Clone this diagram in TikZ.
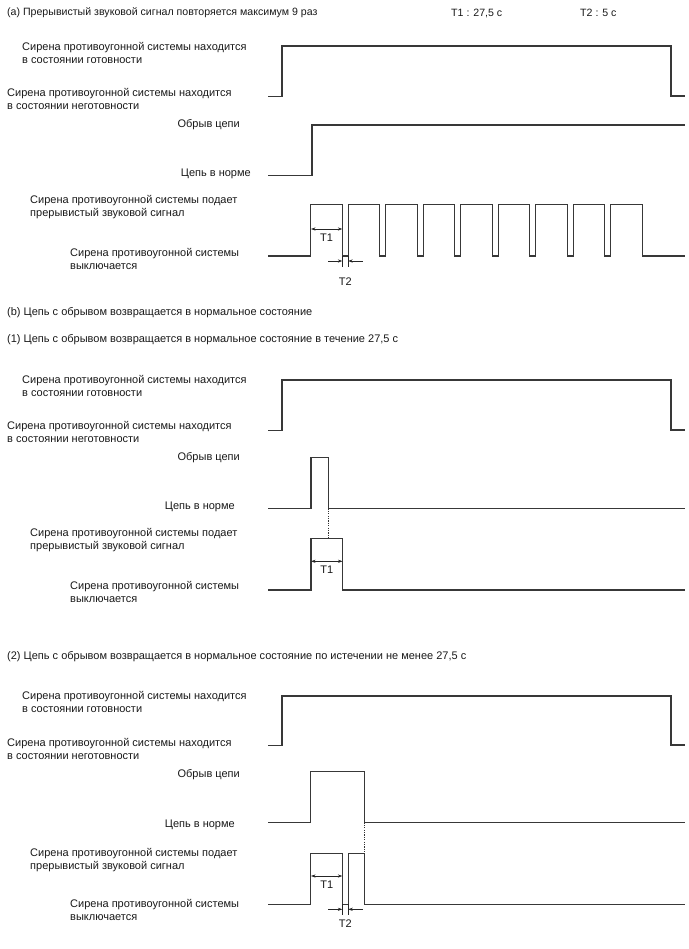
\documentclass[tikz,border=0pt]{standalone}
\usepackage{fontspec}
\setmainfont{Liberation Sans}
\usetikzlibrary{arrows.meta}
\tikzset{
  wave/.style={line width=1.2pt, draw=black!78, line join=miter},
  dimln/.style={line width=0.6pt, draw=black!85},
  dimtip/.style={dimln, -{Stealth[length=4.5pt,width=3.2pt]}},
  dimboth/.style={dimln, {Stealth[length=4.5pt,width=3.2pt]}-{Stealth[length=4.5pt,width=3.2pt]}},
  dotln/.style={line width=0.8pt, draw=black!80, dash pattern=on 1.2pt off 1.2pt},
  lbl/.style={font=\fontsize{11}{13}\selectfont, align=left, inner sep=0pt, text=black!90},
  ttl/.style={lbl, anchor=west},
}
\begin{document}
\begin{tikzpicture}[x=1pt,y=-1pt]
\useasboundingbox (0,0) rectangle (688,949);

% ---------------- (a) ----------------
\node[ttl, font=\fontsize{10.6}{13}\selectfont] (ta) at (7,13) {(a) Прерывистый звуковой сигнал повторяется максимум 9 раз};
\node[ttl, font=\fontsize{10.6}{13}\selectfont] (tt1) at (451,13) {T1 : 27,5 с};
\node[ttl, font=\fontsize{10.6}{13}\selectfont] (tt2) at (580,13) {T2 : 5 с};

\node[lbl, anchor=west] (a1) at (22,52.5) {Сирена противоугонной системы находится\\в состоянии готовности};
\node[lbl, anchor=west] (a2) at (7,98.5) {Сирена противоугонной системы находится\\в состоянии неготовности};
\node[lbl, anchor=east] (a3) at (240,124.5) {Обрыв цепи};
\node[lbl, anchor=east] (a4) at (251,173.5) {Цепь в норме};
\node[lbl, anchor=west] (a5) at (30,207.5) {Сирена противоугонной системы подает\\прерывистый звуковой сигнал};
\node[lbl, anchor=west] (a6) at (70,258.5) {Сирена противоугонной системы\\выключается};

\draw[wave] (268,96.5) -- (282,96.5) -- (282,46) -- (671,46) -- (671,96) -- (685,96);
\draw[wave] (268,175.5) -- (312,175.5) -- (312,125) -- (685,125);
\draw[wave] (268,256) -- (310.7,256)
  \foreach \i in {0,...,8} { -- ({310.7+37.5*\i},256) -- ({310.7+37.5*\i},204.5) -- ({342.3+37.5*\i},204.5) -- ({342.3+37.5*\i},256) }
  -- (685,256);

\coordinate (aT1l) at (311,229);
\coordinate (aT1r) at (342.3,229);
\draw[dimboth] (aT1l) -- (aT1r);
\node[lbl] (aT1) at (326.5,237.5) {T1};

\draw[dimln] (342.3,256) -- (342.3,267);
\draw[dimln] (348.2,256) -- (348.2,267);
\coordinate (aT2a) at (328,261);
\coordinate (aT2b) at (342.3,261);
\coordinate (aT2c) at (362.7,261);
\coordinate (aT2d) at (348.2,261);
\draw[dimtip] (aT2a) -- (aT2b);
\draw[dimtip] (aT2c) -- (aT2d);
\node[lbl] (aT2) at (345.3,281.5) {T2};

% ---------------- (b) ----------------
\node[ttl] (tb) at (7,313) {(b) Цепь с обрывом возвращается в нормальное состояние};
\node[ttl] (tb1) at (7,340) {(1) Цепь с обрывом возвращается в нормальное состояние в течение 27,5 с};

\node[lbl, anchor=west] (b1) at (22,386) {Сирена противоугонной системы находится\\в состоянии готовности};
\node[lbl, anchor=west] (b2) at (7,432) {Сирена противоугонной системы находится\\в состоянии неготовности};
\node[lbl, anchor=east] (b3) at (240,457.5) {Обрыв цепи};
\node[lbl, anchor=east] (b4) at (235,506.5) {Цепь в норме};
\node[lbl, anchor=west] (b5) at (30,540.5) {Сирена противоугонной системы подает\\прерывистый звуковой сигнал};
\node[lbl, anchor=west] (b6) at (70,591.5) {Сирена противоугонной системы\\выключается};

\draw[wave] (268,430.5) -- (282,430.5) -- (282,380) -- (671,380) -- (671,430) -- (685,430);
\draw[wave] (268,508.3) -- (311,508.3) -- (311,457.3) -- (328.3,457.3) -- (328.3,508.3) -- (685,508.3);
\coordinate (bd1) at (328.3,508.3);
\coordinate (bd2) at (328.3,538.3);
\draw[dotln] (bd1) -- (bd2);
\draw[wave] (268,590) -- (311,590) -- (311,538.3) -- (342.5,538.3) -- (342.5,590) -- (685,590);
\coordinate (bT1l) at (311,561.3);
\coordinate (bT1r) at (342.5,561.3);
\draw[dimboth] (bT1l) -- (bT1r);
\node[lbl] (bT1) at (326.7,569.5) {T1};

% ---------------- (2) ----------------
\node[ttl] (tc) at (7,657) {(2) Цепь с обрывом возвращается в нормальное состояние по истечении не менее 27,5 с};

\node[lbl, anchor=west] (c1) at (22,702) {Сирена противоугонной системы находится\\в состоянии готовности};
\node[lbl, anchor=west] (c2) at (7,748.5) {Сирена противоугонной системы находится\\в состоянии неготовности};
\node[lbl, anchor=east] (c3) at (240,775) {Обрыв цепи};
\node[lbl, anchor=east] (c4) at (235,825) {Цепь в норме};
\node[lbl, anchor=west] (c5) at (30,860) {Сирена противоугонной системы подает\\прерывистый звуковой сигнал};
\node[lbl, anchor=west] (c6) at (70,910) {Сирена противоугонной системы\\выключается};

\draw[wave] (268,745.5) -- (282,745.5) -- (282,696) -- (671,696) -- (671,745) -- (685,745);
\draw[wave] (268,822.3) -- (310.7,822.3) -- (310.7,771.7) -- (364.3,771.7) -- (364.3,822.3) -- (685,822.3);
\coordinate (cd1) at (364.3,822.3);
\coordinate (cd2) at (364.3,853.3);
\draw[dotln] (cd1) -- (cd2);
\draw[wave] (268,904.3) -- (310.7,904.3) -- (310.7,853.3) -- (342.3,853.3) -- (342.3,904.3) -- (348.3,904.3) -- (348.3,853.3) -- (364.3,853.3) -- (364.3,904.3) -- (685,904.3);
\coordinate (cT1l) at (311,876);
\coordinate (cT1r) at (342.3,876);
\draw[dimboth] (cT1l) -- (cT1r);
\node[lbl] (cT1) at (326.7,885) {T1};

\draw[dimln] (342.3,904.3) -- (342.3,914.5);
\draw[dimln] (348.3,904.3) -- (348.3,914.5);
\coordinate (cT2a) at (328,909.3);
\coordinate (cT2b) at (342.3,909.3);
\coordinate (cT2c) at (362.7,909.3);
\coordinate (cT2d) at (348.3,909.3);
\draw[dimtip] (cT2a) -- (cT2b);
\draw[dimtip] (cT2c) -- (cT2d);
\node[lbl] (cT2) at (345.3,923.5) {T2};
\end{tikzpicture}
\end{document}
